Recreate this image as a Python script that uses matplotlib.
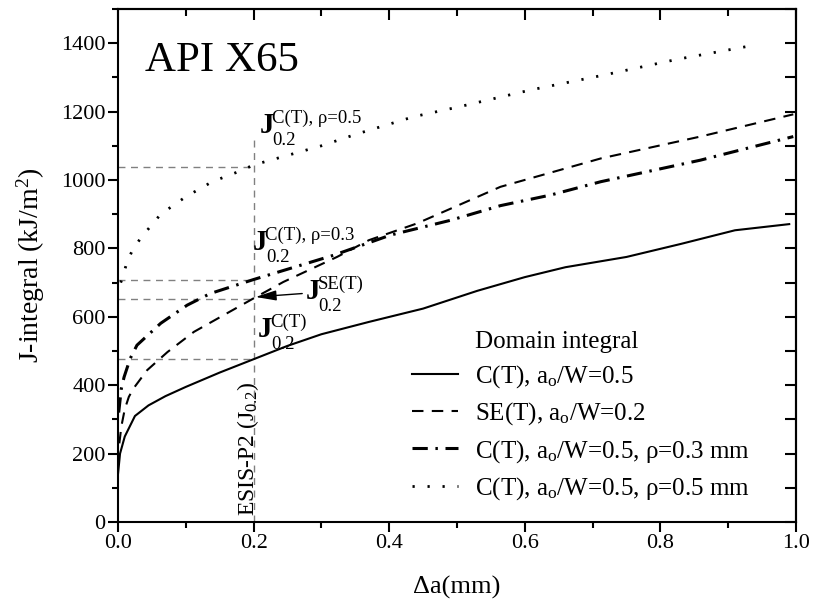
import matplotlib
matplotlib.use("Agg")
import matplotlib.pyplot as plt
from matplotlib.lines import Line2D
from matplotlib.ticker import MultipleLocator, FormatStrFormatter
from matplotlib.transforms import offset_copy

plt.rcParams['font.family'] = ['Liberation Serif', 'DejaVu Serif']
plt.rcParams['mathtext.fontset'] = 'custom'
plt.rcParams['mathtext.rm'] = 'Liberation Serif'
plt.rcParams['mathtext.it'] = 'Liberation Serif:italic'
plt.rcParams['mathtext.bf'] = 'Liberation Serif:bold'

# ---- data ----
ct_x = [0.0, 0.003, 0.01, 0.025, 0.045, 0.07, 0.1, 0.15, 0.2, 0.25, 0.3, 0.37, 0.45,
        0.53, 0.6, 0.66, 0.75, 0.83, 0.91, 0.99]
ct_j = [140, 200, 250, 310, 341, 368, 395, 437, 476, 515, 549, 585, 624,
        676, 716, 745, 775, 813, 853, 871]

se_x = [0.002, 0.005, 0.01, 0.016, 0.023, 0.043, 0.073, 0.112, 0.156, 0.2, 0.244,
        0.323, 0.37, 0.441, 0.564, 0.712, 0.859, 0.996]
se_j = [230, 280, 330, 366, 391, 444, 497, 556, 605, 654, 702,
        775, 824, 873, 980, 1063, 1127, 1192]

r3_x = [0.001, 0.005, 0.009, 0.018, 0.028, 0.063, 0.102, 0.136, 0.2, 0.318, 0.402,
        0.49, 0.564, 0.638, 0.712, 0.859, 0.996]
r3_j = [320, 391, 424, 478, 517, 581, 634, 668, 709, 780, 839,
        882, 925, 956, 995, 1058, 1127]

r5_x = [0.004, 0.007, 0.013, 0.022, 0.035, 0.063, 0.1, 0.139, 0.181, 0.2, 0.3, 0.353,
        0.436, 0.503, 0.608, 0.717, 0.825, 0.935]
r5_j = [700, 717, 758, 798, 834, 900, 951, 995, 1027, 1044, 1100, 1135,
        1185, 1214, 1263, 1307, 1353, 1393]

j02_levels = [1037, 707, 651, 476]
x_ref = 0.2
vline_top = 1127

j_sups = ['C(T), ρ=0.5', 'C(T), ρ=0.3', 'SE(T)', 'C(T)']
j_pos_x = [0.209, 0.199, 0.2766, 0.2068]
j_pos_y = [1137, 795, 651, 541]

legend_labels = ['Domain integral',
                 r'C(T), a$_\mathrm{o}$/W=0.5',
                 r'SE(T), a$_\mathrm{o}$/W=0.2',
                 r'C(T), a$_\mathrm{o}$/W=0.5, ρ=0.3 mm',
                 r'C(T), a$_\mathrm{o}$/W=0.5, ρ=0.5 mm']

# ---- figure ----
fig = plt.figure(figsize=(8.13, 6.08), dpi=100)
W, H = 813, 608
ax = fig.add_axes([118 / W, 1 - 522 / H, 678 / W, 513 / H])

gray = '#808080'
ref_style = dict(color=gray, lw=1.0, linestyle=(0, (5, 4)), zorder=1)
ax.plot([x_ref, x_ref], [0, vline_top], **ref_style)
for lv in j02_levels:
    ax.plot([0, x_ref], [lv, lv], **ref_style)

l1, = ax.plot(ct_x, ct_j, color='black', lw=1.5, linestyle='-', zorder=3)
l2, = ax.plot(se_x, se_j, color='black', lw=1.5, linestyle=(0, (5.5, 4)), zorder=3)
l3, = ax.plot(r3_x, r3_j, color='black', lw=2.2, linestyle=(0, (5, 2.5, 0.8, 2.5)), zorder=3)
l4, = ax.plot(r5_x, r5_j, color='black', lw=2.0, linestyle=(0, (0.8, 4.6)), zorder=3)

ax.set_xlim(0, 1.0)
ax.set_ylim(0, 1500)
ax.xaxis.set_major_locator(MultipleLocator(0.2))
ax.xaxis.set_minor_locator(MultipleLocator(0.1))
ax.xaxis.set_major_formatter(FormatStrFormatter('%.1f'))
ax.yaxis.set_minor_locator(MultipleLocator(100))
ax.set_yticks([0, 200, 400, 600, 800, 1000, 1200, 1400])

for s in ax.spines.values():
    s.set_linewidth(1.5)

ax.tick_params(axis='both', which='major', direction='out', length=7, width=1.5,
               labelsize=16, pad=2)
ax.tick_params(axis='both', which='minor', direction='out', length=4, width=1.5)

# mirrored inward ticks on top and right
axt = ax.secondary_xaxis('top')
axt.xaxis.set_major_locator(MultipleLocator(0.2))
axt.xaxis.set_minor_locator(MultipleLocator(0.1))
axt.tick_params(which='major', direction='in', length=8, width=1.5, labeltop=False)
axt.tick_params(which='minor', direction='in', length=5, width=1.5)
axr = ax.secondary_yaxis('right')
axr.yaxis.set_major_locator(MultipleLocator(200))
axr.yaxis.set_minor_locator(MultipleLocator(100))
axr.tick_params(which='major', direction='in', length=8, width=1.5, labelright=False)
axr.tick_params(which='minor', direction='in', length=8, width=1.5)
for sec in (axt, axr):
    for s in sec.spines.values():
        s.set_linewidth(1.5)

ax.set_xlabel('Δa(mm)', fontsize=19, labelpad=16)
ax.set_ylabel('J-integral (kJ/m$^\\mathrm{2}$)', fontsize=20, labelpad=10)

ax.text(0.04, 1318, 'API X65', fontsize=31, ha='left', va='baseline')

# J_0.2 annotations built from bold J + superscript + subscript
for sup, jx, jy in zip(j_sups, j_pos_x, j_pos_y):
    ax.text(jx, jy, 'J', fontsize=21, fontweight='bold', ha='left', va='baseline', zorder=4)
    t_sup = offset_copy(ax.transData, fig=fig, x=12, y=10, units='dots')
    t_sub = offset_copy(ax.transData, fig=fig, x=13, y=-12, units='dots')
    ax.text(jx, jy, sup, fontsize=13.5, transform=t_sup, ha='left', va='baseline', zorder=4)
    ax.text(jx, jy, '0.2', fontsize=13.5, transform=t_sub, ha='left', va='baseline', zorder=4)

ax.annotate('', xy=(0.2028, 658), xytext=(0.2717, 668),
            arrowprops=dict(arrowstyle='-|>,head_length=0.9,head_width=0.22',
                            color='black', lw=1.0, mutation_scale=14,
                            shrinkA=0, shrinkB=0))

ax.text(0.1917, 18, r'ESIS-P2 (J$_{\mathrm{0.2}}$)', fontsize=17, rotation=90,
        ha='center', va='bottom')

h0 = Line2D([], [], linestyle='none')
leg = ax.legend([h0, l1, l2, l3, l4], legend_labels, loc='lower left',
                bbox_to_anchor=(0.4336, 0.039), frameon=False, fontsize=18,
                handlelength=1.85, handletextpad=0.68, labelspacing=0.42,
                borderpad=0, borderaxespad=0)

fig.savefig('out.png', dpi=100)
